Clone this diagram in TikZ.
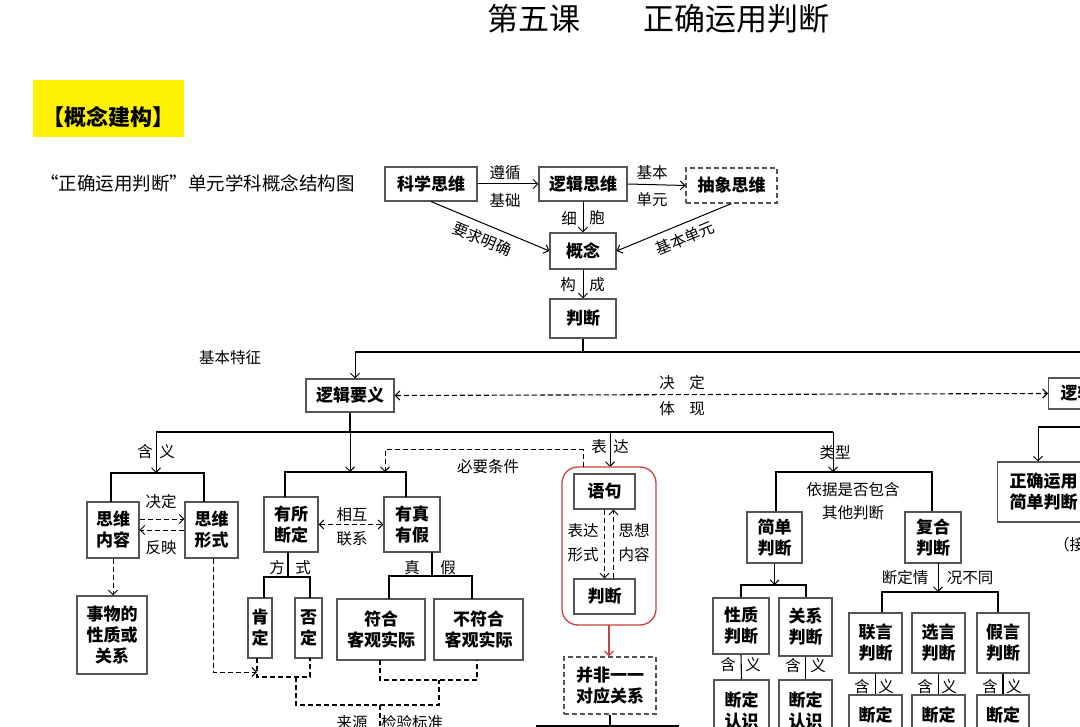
\documentclass[tikz,border=0pt]{standalone}
\usepackage{fontspec}
\setmainfont{Noto Sans CJK SC}
\usetikzlibrary{arrows.meta,calc}
\definecolor{boxc}{RGB}{85,85,85}
\definecolor{redc}{RGB}{200,65,65}
\definecolor{yel}{RGB}{255,242,0}
\tikzset{
  box/.style={draw=boxc, line width=1.1pt, inner sep=0pt, align=center,
    font=\fontsize{17}{21}\selectfont\bfseries},
  lab/.style={inner sep=0pt, font=\fontsize{15.5}{17}\selectfont},
  arr/.style={-{Straight Barb[length=4.5pt,width=9pt]}, line width=1pt},
  ln/.style={line width=1.6pt},
  thin/.style={line width=1.1pt},
  dsh/.style={dash pattern=on 5pt off 3pt, line width=1.1pt},
}
\begin{document}
\begin{tikzpicture}[x=1pt,y=-1pt]
\useasboundingbox (0,0) rectangle (1080,727);
\clip (0,0) rectangle (1080,727);
\fill[white] (0,0) rectangle (1080,727);
% title
\node[inner sep=0pt, font=\fontsize{31}{34}\selectfont] (t1) at (534,19) {第五课};
\node[inner sep=0pt, font=\fontsize{31}{34}\selectfont] (t2) at (736,19) {正确运用判断};
\node[fill=yel, minimum width=151pt, minimum height=57pt, inner sep=0pt] (yb) at (108.5,108.5) {};
\node[inner sep=0pt, font=\fontsize{22}{24}\selectfont\bfseries] (ybt) at (108,117) {【概念建构】};
\node[inner sep=0pt, font=\fontsize{18.5}{21}\selectfont, anchor=west] (sub) at (40,183) {“正确运用判断”单元学科概念结构图};

% top part
\node[box, minimum width=92pt, minimum height=34pt] (kx) at (431,184) {科学思维};
\node[box, minimum width=88pt, minimum height=34pt] (lj) at (583,184) {逻辑思维};
\node[box, dsh, minimum width=91pt, minimum height=35pt] (cx) at (731.5,185.5) {抽象思维};
\node[box, minimum width=66pt, minimum height=36pt] (gn) at (583,251) {概念};
\node[box, minimum width=66pt, minimum height=39pt] (pd) at (583,318.5) {判断};
\draw[arr] (kx.east) -- (lj.west);
\node[lab] at (505,173) {遵循};
\node[lab] at (505,201) {基础};
\draw[arr] (lj.east) -- (cx.west);
\node[lab] at (652,173) {基本};
\node[lab] at (652,200) {单元};
\draw[arr] (lj.south) -- (gn.north);
\node[lab] at (569,218) {细};
\node[lab] at (597,218) {胞};
\draw[arr] (kx.south) -- node[lab, sloped, below=7pt, pos=0.48] {要求明确} (gn.west);
\draw[arr] (cx.south) -- node[lab, sloped, below=7pt, pos=0.45] {基本单元} (gn.east);
\draw[arr] (gn.south) -- (pd.north);
\node[lab] at (568,285) {构};
\node[lab] at (597,285) {成};

% level 2
\coordinate (h1) at (355,352);
\draw[ln] (pd.south) -- (pd.south |- h1);
\draw[ln] (h1) -- (1090,352);
\node[lab] at (230,358) {基本特征};
\node[box, minimum width=88pt, minimum height=33pt] (ly) at (350,395.5) {逻辑要义};
\draw[arr] (h1) -- (h1 |- ly.north);
\node[box, minimum width=92pt, minimum height=31pt, anchor=west, inner xsep=12pt, text width=68pt, align=left] (lg) at (1048,393.5) {逻辑规则};
\draw[dsh, {Straight Barb[length=4.5pt,width=9pt]}-{Straight Barb[length=4.5pt,width=9pt]}] (ly.east) -- (lg.west);
\node[lab] at (667,383) {决};
\node[lab] at (697,383) {定};
\node[lab] at (667,409) {体};
\node[lab] at (697,409) {现};

% right side branch
\node[box, minimum width=92pt, minimum height=60pt, anchor=west] (zq) at (997,492) {正确运用\\简单判断};
\coordinate (r1) at (1038,427);
\draw[ln] (1090,427) -- (r1);
\draw[arr] (r1) -- (r1 |- zq.north);
\node[lab, anchor=west] at (1054,545) {（接下页）};

% level 3 main bar
\coordinate (h2) at (350,432);
\draw[ln] (ly.south) -- (h2);
\draw[ln] (156,432) -- (833,432);

% ---- 含义 group
\coordinate (a1) at (156,432);
\coordinate (a2) at (156,473);
\draw[arr] (a1) -- (a2);
\node[lab] at (145,452) {含};
\node[lab] at (167,452) {义};
\node[box, minimum width=52pt, minimum height=56pt] (nr) at (113,530) {思维\\内容};
\node[box, minimum width=53pt, minimum height=56pt] (xs) at (211.5,530) {思维\\形式};
\draw[ln] (111,502) |- (204,473) -- (204,502);
\draw[dsh, arr] ($(nr.east)+(0,-11)$) -- ($(xs.west)+(0,-11)$);
\draw[dsh, arr] ($(xs.west)+(0,0)$) -- ($(nr.east)+(0,0)$);
\node[lab] at (161,502) {决定};
\node[lab] at (161,548) {反映};
\node[box, minimum width=70pt, minimum height=78pt] (sw) at (112,635) {事物的\\性质或\\关系};
\draw[dsh, arr] (nr.south) -- (nr.south |- sw.north);

% ---- 有所断定 / 有真有假
\draw[arr] (h2) -- (350,472);
\node[box, minimum width=54pt, minimum height=55pt] (ys) at (291,524.5) {有所\\断定};
\node[box, minimum width=56pt, minimum height=55pt] (yz) at (412,524.5) {有真\\有假};
\draw[ln] (285,497) |- (406,472) -- (406,497);
\draw[dsh, {Straight Barb[length=4.5pt,width=9pt]}-{Straight Barb[length=4.5pt,width=9pt]}] (ys.east) -- (yz.west);
\node[lab] at (352,515) {相互};
\node[lab] at (352,539) {联系};

\node[box, minimum width=24pt, minimum height=60pt] (kd) at (260,628) {肯\\定};
\node[box, minimum width=27pt, minimum height=60pt] (fd) at (308.5,628) {否\\定};
\draw[thin] (288,552) -- (288,577);
\draw[thin] (264,598) |- (310,577) -- (310,598);
\node[lab] at (277,568) {方};
\node[lab] at (303,568) {式};

\node[box, minimum width=88pt, minimum height=61pt] (fh) at (381,629.5) {符合\\客观实际};
\node[box, minimum width=89pt, minimum height=61pt] (bf) at (478.5,629.5) {不符合\\客观实际};
\draw[thin] (432,552) -- (432,576);
\draw[thin] (389,599) |- (472,576) -- (472,599);
\node[lab] at (412,568) {真};
\node[lab] at (448,568) {假};

% dashed brackets
\draw[dsh] (257,658) |- (310,677) -- (310,658);
\draw[dsh, arr] (xs.south -| 213,0) -- (213,672) -- (257,672);
\draw[dsh] (380,660) |- (477,680) -- (477,660);
\draw[dsh] (296,677) |- (439,705) -- (439,680);
\draw[dsh] (380,705) -- (380,730);
\node[lab] at (352,723) {来源};
\node[lab] at (412,723) {检验标准};

% ---- 表达 group
\draw[arr] (610,432) -- (610,467);
\node[lab] at (599,447) {表};
\node[lab] at (621,447) {达};
\draw[redc, line width=1.3pt, rounded corners=16pt] (562,467) rectangle (656,625);
\coordinate (rb) at (609,625);
\node[box, minimum width=61pt, minimum height=35pt] (yj) at (604.5,491.5) {语句};
\node[box, minimum width=61pt, minimum height=35pt] (pj) at (604.5,596.5) {判断};
\draw[dsh, arr] ($(yj.south)+(0,0)$) -- ($(pj.north)+(0,0)$);
\draw[dsh, arr] ($(pj.north)+(9,0)$) -- ($(yj.south)+(9,0)$);
\node[lab, align=center, font=\fontsize{15.5}{24}\selectfont] at (583,543) {表达\\形式};
\node[lab, align=center, font=\fontsize{15.5}{24}\selectfont] at (634,543) {思想\\内容};
\node[box, dsh, minimum width=92pt, minimum height=57pt] (bfy) at (610,685.5) {并非一一\\对应关系};
\draw[arr, redc, line width=1.3pt] (rb) -- (rb |- bfy.north);
\node[box, draw=black, line width=2pt, minimum width=141pt, minimum height=40pt] (bt) at (607.5,746) {};
\draw[thin] (bfy.south) -- (bfy.south |- bt.north);
% 必要条件
\draw[dsh, arr] (583,467) -- (583,450) -- (385,450) -- (385,472);
\node[lab] at (488,467) {必要条件};

% ---- 类型 group
\draw[arr] (833,432) -- (833,472);
\node[lab] at (835,453) {类型};
\draw[ln] (776,512) |- (932,472) -- (932,512);
\node[lab, align=center, font=\fontsize{15.5}{23}\selectfont] at (853,501) {依据是否包含\\其他判断};
\node[box, minimum width=55pt, minimum height=51pt] (jd) at (774.5,537.5) {简单\\判断};
\node[box, minimum width=56pt, minimum height=51pt] (fh2) at (933,537.5) {复合\\判断};

\draw[arr] (jd.south) -- (774.5,585);
\draw[ln] (741,598) |- (806,585) -- (806,598);
\node[box, minimum width=56pt, minimum height=56pt] (xz) at (741,626) {性质\\判断};
\node[box, minimum width=53pt, minimum height=58pt] (gx) at (805.5,627) {关系\\判断};
\node[box, minimum width=55pt, minimum height=60pt] (d1) at (741.5,710) {断定\\认识};
\node[box, minimum width=53pt, minimum height=60pt] (d2) at (805.5,710) {断定\\认识};
\draw[thin] (xz.south) -- (d1.north);
\draw[thin] (gx.south) -- (d2.north);
\node[lab] at (728,665) {含};
\node[lab] at (753,665) {义};
\node[lab] at (793,666) {含};
\node[lab] at (818,666) {义};

\draw[arr] (938,563) -- (938,592);
\node[lab] at (905,578) {断定情};
\node[lab] at (970,578) {况不同};
\draw[ln] (882,613) |- (998,592) -- (998,613);
\node[box, minimum width=53pt, minimum height=60pt] (ly2) at (875.5,643) {联言\\判断};
\node[box, minimum width=53pt, minimum height=60pt] (xy) at (938.5,643) {选言\\判断};
\node[box, minimum width=52pt, minimum height=60pt] (jy) at (1003,643) {假言\\判断};
\node[box, minimum width=53pt, minimum height=60pt] (e1) at (875.5,725) {断定\\认识};
\node[box, minimum width=53pt, minimum height=60pt] (e2) at (938.5,725) {断定\\认识};
\node[box, minimum width=52pt, minimum height=60pt] (e3) at (1003,725) {断定\\认识};
\draw[thin] (ly2.south) -- (e1.north);
\draw[thin] (xy.south) -- (e2.north);
\draw[thin] (jy.south) -- (e3.north);
\node[lab] at (862,687) {含};
\node[lab] at (886,687) {义};
\node[lab] at (925,687) {含};
\node[lab] at (949,687) {义};
\node[lab] at (990,687) {含};
\node[lab] at (1014,687) {义};
\end{tikzpicture}
\end{document}
